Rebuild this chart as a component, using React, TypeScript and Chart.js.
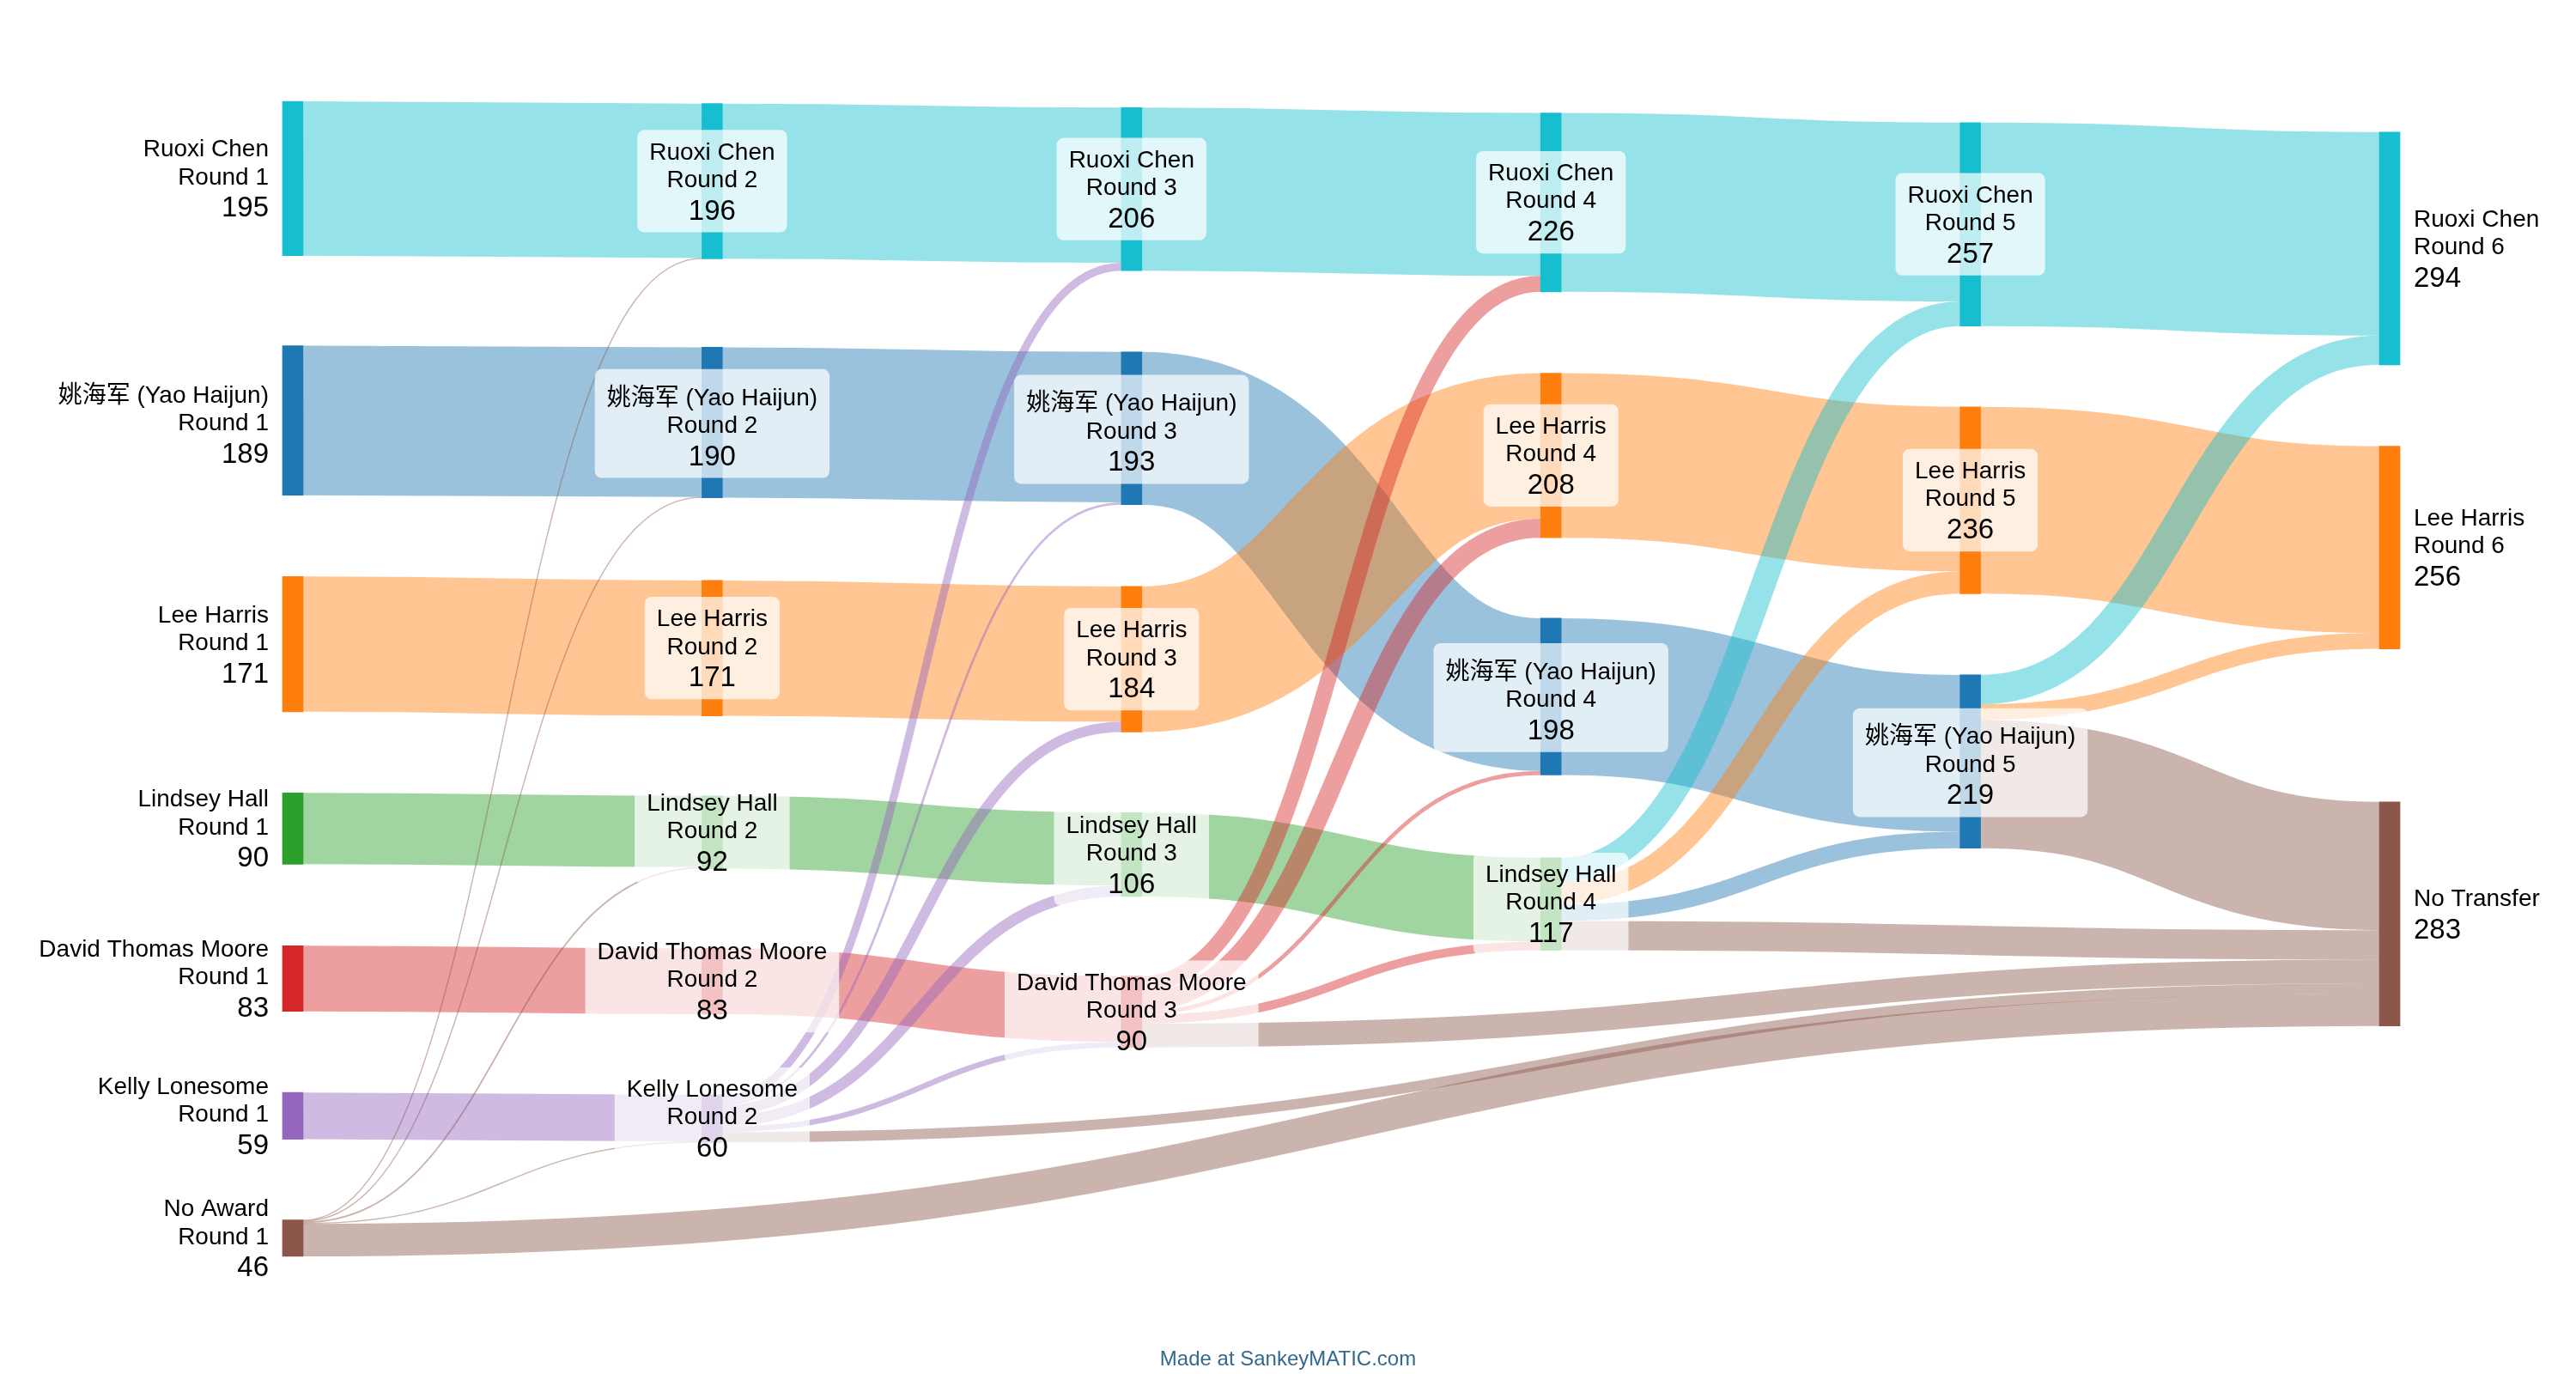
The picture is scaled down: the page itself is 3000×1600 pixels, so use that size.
import React, { useEffect, useRef } from 'react';
import { Chart, registerables } from 'chart.js';

Chart.register(...registerables);

// ---------- palette ----------
const CYAN = '#17becf';
const BLUE = '#1f77b4';
const ORANGE = '#ff7f0e';
const GREEN = '#2ca02c';
const RED = '#d62728';
const PURPLE = '#9467bd';
const BROWN = '#8c564b';

// ---------- nodes ----------
const nodeNames = [
  'Ruoxi Chen', '姚海军 (Yao Haijun)', 'Lee Harris', 'Lindsey Hall', 'David Thomas Moore', 'Kelly Lonesome', 'No Award',
  'Ruoxi Chen', '姚海军 (Yao Haijun)', 'Lee Harris', 'Lindsey Hall', 'David Thomas Moore', 'Kelly Lonesome',
  'Ruoxi Chen', '姚海军 (Yao Haijun)', 'Lee Harris', 'Lindsey Hall', 'David Thomas Moore',
  'Ruoxi Chen', 'Lee Harris', '姚海军 (Yao Haijun)', 'Lindsey Hall',
  'Ruoxi Chen', 'Lee Harris', '姚海军 (Yao Haijun)',
  'Ruoxi Chen', 'Lee Harris', 'No Transfer',
];
const nodeRoundLabels = [
  'Round 1', 'Round 1', 'Round 1', 'Round 1', 'Round 1', 'Round 1', 'Round 1',
  'Round 2', 'Round 2', 'Round 2', 'Round 2', 'Round 2', 'Round 2',
  'Round 3', 'Round 3', 'Round 3', 'Round 3', 'Round 3',
  'Round 4', 'Round 4', 'Round 4', 'Round 4',
  'Round 5', 'Round 5', 'Round 5',
  'Round 6', 'Round 6', '',
];
// column (stage) of each node
const nodeColumns = [
  0, 0, 0, 0, 0, 0, 0,
  1, 1, 1, 1, 1, 1,
  2, 2, 2, 2, 2,
  3, 3, 3, 3,
  4, 4, 4,
  5, 5, 5,
];
const nodeValues = [
  195, 189, 171, 90, 83, 59, 46,
  196, 190, 171, 92, 83, 60,
  206, 193, 184, 106, 90,
  226, 208, 198, 117,
  257, 236, 219,
  294, 256, 283,
];
// vertical placement of each node (top edge, in vote units from the top of the diagram)
const nodeTops = [
  0, 308.6, 600.1, 873.6, 1066.6, 1252, 1413,
  2.9, 310.7, 605.2, 877.3, 1070, 1255,
  7.9, 316.6, 612.8, 898.5, 1105,
  14.6, 343.3, 652.9, 955.4,
  26.8, 385.9, 724.5,
  38.8, 435.6, 885,
];
const nodeColors = [
  CYAN, BLUE, ORANGE, GREEN, RED, PURPLE, BROWN,
  CYAN, BLUE, ORANGE, GREEN, RED, PURPLE,
  CYAN, BLUE, ORANGE, GREEN, RED,
  CYAN, ORANGE, BLUE, GREEN,
  CYAN, ORANGE, BLUE,
  CYAN, ORANGE, BROWN,
];

// ---------- flows ----------
const linkSources = [
  0, 1, 2, 3, 4, 5, 6, 6, 6, 6, 6,
  7, 8, 9, 10, 11, 12, 12, 12, 12, 12, 12,
  13, 14, 15, 16, 17, 17, 17, 17, 17,
  18, 19, 20, 21, 21, 21, 21,
  22, 23, 24, 24, 24,
];
const linkTargets = [
  7, 8, 9, 10, 11, 12, 7, 8, 10, 12, 27,
  13, 14, 15, 16, 17, 13, 14, 15, 16, 17, 27,
  18, 20, 19, 21, 18, 19, 20, 21, 27,
  22, 23, 24, 22, 23, 24, 27,
  25, 26, 25, 26, 27,
];
const linkValues = [
  195, 189, 171, 90, 83, 59, 1, 1, 2, 1, 41,
  196, 190, 171, 92, 83, 10, 3, 13, 14, 7, 13,
  206, 193, 184, 106, 20, 24, 5, 11, 30,
  226, 208, 198, 31, 28, 21, 37,
  257, 236, 37, 20, 162,
];
const linkColors = [
  CYAN, BLUE, ORANGE, GREEN, RED, PURPLE, BROWN, BROWN, BROWN, BROWN, BROWN,
  CYAN, BLUE, ORANGE, GREEN, RED, PURPLE, PURPLE, PURPLE, PURPLE, PURPLE, BROWN,
  CYAN, BLUE, ORANGE, GREEN, RED, RED, RED, RED, BROWN,
  CYAN, ORANGE, BLUE, CYAN, ORANGE, BLUE, BROWN,
  CYAN, ORANGE, CYAN, ORANGE, BROWN,
];

const FOOTER_TEXT = 'Made at SankeyMATIC.com';

// ---------- style constants ----------
const NODE_WIDTH = 24;
const LINK_ALPHA = 0.45;
const MIN_LINK_WIDTH = 1.4;
const FONT_FAMILY = '"Liberation Sans", Arial, "Noto Sans CJK SC", sans-serif';
const NAME_FONT = `28px ${FONT_FAMILY}`;
const VALUE_FONT = `33px ${FONT_FAMILY}`;
const LABEL_GAP = 16;

function computeLinkOffsets() {
  const nLinks = linkValues.length;
  const srcOff = new Array(nLinks).fill(0);
  const tgtOff = new Array(nLinks).fill(0);
  const terminalKey = (node: number) => (nodeNames[node] === 'No Transfer' ? 1e9 : nodeTops[node]);
  for (let n = 0; n < nodeValues.length; n++) {
    const outs: number[] = [];
    const ins: number[] = [];
    for (let j = 0; j < nLinks; j++) {
      if (linkSources[j] === n) outs.push(j);
      if (linkTargets[j] === n) ins.push(j);
    }
    outs.sort((a, b) => terminalKey(linkTargets[a]) - terminalKey(linkTargets[b]) || a - b);
    ins.sort((a, b) => nodeTops[linkSources[a]] - nodeTops[linkSources[b]] || a - b);
    let acc = 0;
    outs.forEach((j) => { srcOff[j] = acc; acc += linkValues[j]; });
    acc = 0;
    ins.forEach((j) => { tgtOff[j] = acc; acc += linkValues[j]; });
  }
  return { srcOff, tgtOff };
}

const sankeyPlugin = {
  id: 'sankeyFlowsAndLabels',
  beforeDatasetsDraw(chart: any) {
    const ctx: CanvasRenderingContext2D = chart.ctx;
    const xs = chart.scales.x;
    const ys = chart.scales.y;
    const k = Math.abs(ys.getPixelForValue(1) - ys.getPixelForValue(0));
    const { srcOff, tgtOff } = computeLinkOffsets();
    ctx.save();
    ctx.globalAlpha = LINK_ALPHA;
    ctx.lineCap = 'butt';
    for (let j = 0; j < linkValues.length; j++) {
      const s = linkSources[j];
      const t = linkTargets[j];
      const v = linkValues[j];
      const x0 = xs.getPixelForValue(nodeColumns[s]) + NODE_WIDTH / 2;
      const x1 = xs.getPixelForValue(nodeColumns[t]) - NODE_WIDTH / 2;
      const y0 = ys.getPixelForValue(nodeTops[s] + srcOff[j] + v / 2);
      const y1 = ys.getPixelForValue(nodeTops[t] + tgtOff[j] + v / 2);
      const xm = (x0 + x1) / 2;
      ctx.strokeStyle = linkColors[j];
      ctx.lineWidth = Math.max(v * k, MIN_LINK_WIDTH);
      ctx.beginPath();
      ctx.moveTo(x0, y0);
      ctx.bezierCurveTo(xm, y0, xm, y1, x1, y1);
      ctx.stroke();
    }
    ctx.restore();
  },
  afterDatasetsDraw(chart: any) {
    const ctx: CanvasRenderingContext2D = chart.ctx;
    const xs = chart.scales.x;
    const ys = chart.scales.y;
    const lastCol = Math.max(...nodeColumns);
    ctx.save();
    ctx.textBaseline = 'alphabetic';
    for (let i = 0; i < nodeValues.length; i++) {
      const col = nodeColumns[i];
      const cx = xs.getPixelForValue(col);
      const cy = ys.getPixelForValue(nodeTops[i] + nodeValues[i] / 2);
      const small = [nodeNames[i], nodeRoundLabels[i]].filter((s) => s);
      const valueText = String(nodeValues[i]);
      const hasCJK = /[\u3400-\u9fff]/.test(nodeNames[i]);
      const baseFirst = cy - 25.5 + (2 - small.length) * 16.15;
      const shift = hasCJK ? 5 : 0;
      const firstBase = baseFirst + shift;
      const valueBase = firstBase + (small.length - 1) * 32.3 + 37.8;
      let x = cx;
      let align: CanvasTextAlign = 'center';
      if (col === 0) { x = cx - NODE_WIDTH / 2 - LABEL_GAP; align = 'right'; }
      else if (col === lastCol) { x = cx + NODE_WIDTH / 2 + LABEL_GAP; align = 'left'; }
      else {
        ctx.font = NAME_FONT;
        let w = 0;
        small.forEach((s) => { w = Math.max(w, ctx.measureText(s).width); });
        ctx.font = VALUE_FONT;
        w = Math.max(w, ctx.measureText(valueText).width);
        const bw = w + 28;
        const top = baseFirst - 34.2 - (hasCJK ? 2.5 : 0);
        const bottom = valueBase + 15;
        ctx.fillStyle = 'rgba(255,255,255,0.72)';
        ctx.beginPath();
        (ctx as any).roundRect(cx - bw / 2, top, bw, bottom - top, 8);
        ctx.fill();
      }
      ctx.textAlign = align;
      ctx.fillStyle = '#000';
      ctx.font = NAME_FONT;
      small.forEach((s, li) => ctx.fillText(s, x, firstBase + li * 32.3));
      ctx.font = VALUE_FONT;
      ctx.fillText(valueText, x, valueBase);
    }
    // footer credit
    ctx.textAlign = 'center';
    ctx.font = `24px ${FONT_FAMILY}`;
    ctx.fillStyle = '#336a8c';
    ctx.fillText(FOOTER_TEXT, chart.width / 2, 1590);
    ctx.restore();
  },
};

export default function App() {
  const canvasRef = useRef<HTMLCanvasElement | null>(null);

  useEffect(() => {
    const canvas = canvasRef.current;
    if (!canvas) return;
    const chart = new Chart(canvas, {
      type: 'bar',
      data: {
        datasets: [
          {
            label: 'nodes',
            data: nodeValues.map((v, i) => ({ x: nodeColumns[i], y: [nodeTops[i], nodeTops[i] + v] })) as any,
            backgroundColor: nodeColors,
            borderWidth: 0,
            barThickness: NODE_WIDTH,
            clip: false as any,
          },
        ],
      },
      options: {
        responsive: false,
        animation: false,
        devicePixelRatio: 1,
        events: [],
        layout: { padding: { left: 341, right: 217, top: 118, bottom: 137 } },
        plugins: {
          legend: { display: false },
          tooltip: { enabled: false },
        },
        scales: {
          x: { type: 'linear', min: 0, max: 5, offset: false, display: false },
          y: { type: 'linear', min: 0, max: 1459, reverse: true, display: false },
        },
      },
      plugins: [sankeyPlugin],
    });
    return () => chart.destroy();
  }, []);

  return (
    <div style={{ position: 'fixed', left: 0, top: 0, width: 3000, height: 1600, background: '#fff' }}>
      <canvas ref={canvasRef} width={3000} height={1600} />
    </div>
  );
}
